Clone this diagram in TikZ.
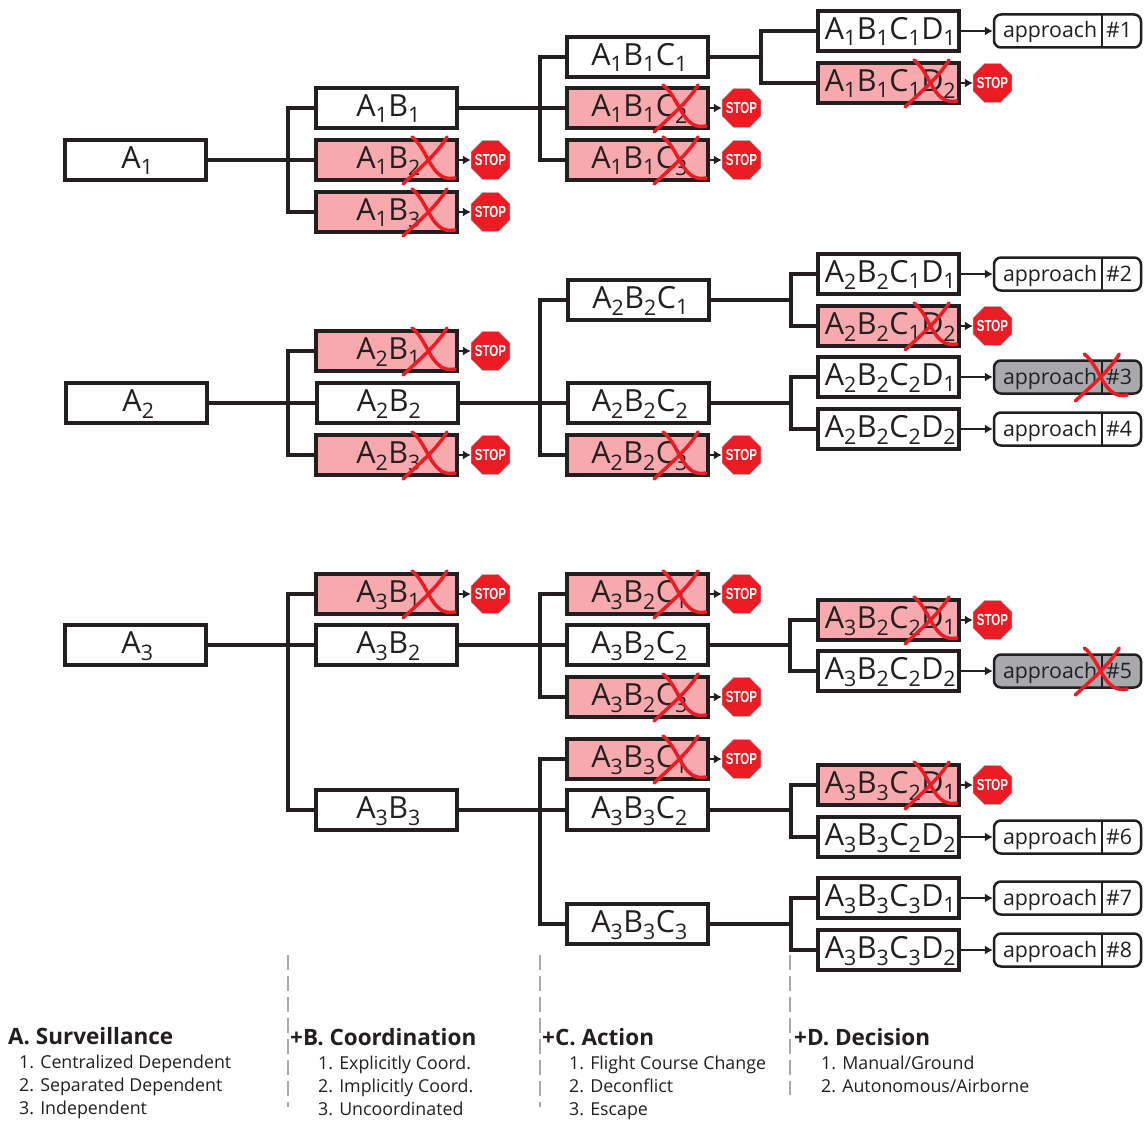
\documentclass[tikz,border=0pt]{standalone}
\usepackage{fontspec}
\setmainfont{Open Sans}
\newfontfamily\stopfont[FakeStretch=0.72]{Liberation Sans}
\usetikzlibrary{arrows.meta,positioning,calc,shapes.geometric}
\definecolor{ink}{HTML}{231F20}
\definecolor{deadpink}{HTML}{F7A9AD}
\definecolor{crossred}{HTML}{ED1C24}
\definecolor{deadgray}{HTML}{A7A9AC}
\newcommand{\sbs}[1]{\textsubscript{#1}}
\newcommand{\stoptext}{\makebox[0pt]{\raisebox{-0.36em}[0pt][0pt]{STOP}}}
\tikzset{
  optbox/.style={
    draw=ink,
    line width=4pt,
    fill=white,
    text=ink,
    minimum width=141pt,
    minimum height=40pt,
    text height=24pt,
    text depth=7.4pt,
    inner sep=0pt,
    align=center,
    execute at begin node=\hspace*{4pt},
    font=\fontsize{30.5}{31}\selectfont
  },
  deadbox/.style={optbox,fill=deadpink},
  apprbox/.style={
    draw=ink,
    line width=2.5pt,
    rounded corners=7pt,
    fill=white,
    text=ink,
    minimum height=33pt,
    minimum width=147pt,
    text width=129pt,
    text height=17pt,
    text depth=3pt,
    inner xsep=9pt,
    inner ysep=0pt,
    align=left,
    font=\fontsize{21.3}{22}\selectfont,
    path picture={\draw[ink,line width=2pt]
      ([xshift=108pt]path picture bounding box.north west) --
      ([xshift=108pt]path picture bounding box.south west);}
  },
  deadappr/.style={apprbox,fill=deadgray},
  stopsign/.style={
    regular polygon,
    regular polygon sides=8,
    draw=deadgray,
    line width=0.6pt,
    fill=crossred,
    text=white,
    minimum size=42pt,
    inner sep=0pt,
    font=\stopfont\bfseries\fontsize{16}{16}\selectfont
  },
  linkline/.style={draw=ink,line width=3.3pt},
  stoparrow/.style={-{Latex[length=8pt,width=9pt]},draw=ink,line width=1.2pt},
  crossline/.style={draw=crossred,line width=3.5pt,line cap=round},
  cutline/.style={draw=deadgray,line width=2pt,dash pattern=on 15pt off 6pt},
  headtext/.style={anchor=west,inner sep=0pt,text=ink,font=\bfseries\fontsize{22.5}{24}\selectfont},
  itemtext/.style={anchor=north west,inner sep=0pt,text=ink,align=left,font=\fontsize{17.8}{23}\selectfont},
  redx/.pic={
    \draw[crossline] (-56,24) .. controls (-40,9) and (-22,-6) .. (-12,-23);
    \draw[crossline] (-47,-23) .. controls (-30,-10) and (-28,23) .. (-4,18);
  }
}
\begin{document}
\begin{tikzpicture}[x=1pt,y=-1pt]
\useasboundingbox (0,0) rectangle (1146,1121);
\node[optbox] (A1) at (135.5,160) {A\sbs1};
\node[optbox] (A1B1) at (386.5,108) {A\sbs1B\sbs1};
\node[deadbox] (A1B2) at (386.5,160) {A\sbs1B\sbs2};
\node[deadbox] (A1B3) at (386.5,212) {A\sbs1B\sbs3};
\node[optbox] (A1B1C1) at (637.5,57) {A\sbs1B\sbs1C\sbs1};
\node[deadbox] (A1B1C2) at (637.5,108) {A\sbs1B\sbs1C\sbs2};
\node[deadbox] (A1B1C3) at (637.5,160) {A\sbs1B\sbs1C\sbs3};
\node[optbox] (A1B1C1D1) at (888.5,31) {A\sbs1B\sbs1C\sbs1D\sbs1};
\node[deadbox] (A1B1C1D2) at (888.5,83) {A\sbs1B\sbs1C\sbs1D\sbs2};
\node[apprbox] (appr1) at (1067.5,31) {approach\hfill\#1};

\node[optbox] (A2) at (136.5,403) {A\sbs2};
\node[deadbox] (A2B1) at (386.5,351) {A\sbs2B\sbs1};
\node[optbox] (A2B2) at (387,403) {A\sbs2B\sbs2};
\node[deadbox] (A2B3) at (386.5,455) {A\sbs2B\sbs3};
\node[optbox] (A2B2C1) at (638.5,300) {A\sbs2B\sbs2C\sbs1};
\node[optbox] (A2B2C2) at (638,403) {A\sbs2B\sbs2C\sbs2};
\node[deadbox] (A2B2C3) at (637.5,455) {A\sbs2B\sbs2C\sbs3};
\node[optbox] (A2B2C1D1) at (888.5,274) {A\sbs2B\sbs2C\sbs1D\sbs1};
\node[deadbox] (A2B2C1D2) at (888.5,326) {A\sbs2B\sbs2C\sbs1D\sbs2};
\node[optbox] (A2B2C2D1) at (888.5,377) {A\sbs2B\sbs2C\sbs2D\sbs1};
\node[optbox] (A2B2C2D2) at (888.5,429) {A\sbs2B\sbs2C\sbs2D\sbs2};
\node[apprbox] (appr2) at (1067.5,274) {approach\hfill\#2};
\node[deadappr] (appr3) at (1067.5,377) {approach\hfill\#3};
\node[apprbox] (appr4) at (1067.5,429) {approach\hfill\#4};

\node[optbox] (A3) at (135.5,645) {A\sbs3};
\node[deadbox] (A3B1) at (386.5,594) {A\sbs3B\sbs1};
\node[optbox] (A3B2) at (386.5,645) {A\sbs3B\sbs2};
\node[optbox] (A3B3) at (386.5,810) {A\sbs3B\sbs3};
\node[deadbox] (A3B2C1) at (637.5,594) {A\sbs3B\sbs2C\sbs1};
\node[optbox] (A3B2C2) at (637.5,645) {A\sbs3B\sbs2C\sbs2};
\node[deadbox] (A3B2C3) at (637.5,697) {A\sbs3B\sbs2C\sbs3};
\node[deadbox] (A3B3C1) at (637.5,759) {A\sbs3B\sbs3C\sbs1};
\node[optbox] (A3B3C2) at (637.5,810) {A\sbs3B\sbs3C\sbs2};
\node[optbox] (A3B3C3) at (637.5,924) {A\sbs3B\sbs3C\sbs3};
\node[deadbox] (A3B2C2D1) at (888.5,620) {A\sbs3B\sbs2C\sbs2D\sbs1};
\node[optbox] (A3B2C2D2) at (888.5,671) {A\sbs3B\sbs2C\sbs2D\sbs2};
\node[deadbox] (A3B3C2D1) at (888.5,785) {A\sbs3B\sbs3C\sbs2D\sbs1};
\node[optbox] (A3B3C2D2) at (888.5,837) {A\sbs3B\sbs3C\sbs2D\sbs2};
\node[optbox] (A3B3C3D1) at (888.5,898) {A\sbs3B\sbs3C\sbs3D\sbs1};
\node[optbox] (A3B3C3D2) at (888.5,950) {A\sbs3B\sbs3C\sbs3D\sbs2};
\node[deadappr] (appr5) at (1067.5,671) {approach\hfill\#5};
\node[apprbox] (appr6) at (1067.5,837) {approach\hfill\#6};
\node[apprbox] (appr7) at (1067.5,898) {approach\hfill\#7};
\node[apprbox] (appr8) at (1067.5,950) {approach\hfill\#8};

\foreach \src/\up/\mid/\down/\jx in {
  A1/A1B1/A1B2/A1B3/288,
  A1B1/A1B1C1/A1B1C2/A1B1C3/540,
  A2/A2B1/A2B2/A2B3/288,
  A2B2/A2B2C1/A2B2C2/A2B2C3/540,
  A3/A3B1/A3B2/A3B3/288,
  A3B2/A3B2C1/A3B2C2/A3B2C3/540,
  A3B3/A3B3C1/A3B3C2/A3B3C3/540}{
  \coordinate (J\src) at (\jx,0);
  \draw[linkline] (\src.east) -- (\mid.west);
  \draw[linkline] (\up.west) -| (J\src |- \mid.west) |- (\down.west);
}
\foreach \src/\up/\down/\jx in {
  A1B1C1/A1B1C1D1/A1B1C1D2/761,
  A2B2C1/A2B2C1D1/A2B2C1D2/791,
  A2B2C2/A2B2C2D1/A2B2C2D2/791,
  A3B2C2/A3B2C2D1/A3B2C2D2/790,
  A3B3C2/A3B3C2D1/A3B3C2D2/791,
  A3B3C3/A3B3C3D1/A3B3C3D2/791}{
  \coordinate (J\src) at (\jx,0);
  \draw[linkline] (\src.east) -- (J\src |- \src.east);
  \draw[linkline] (\up.west) -| (J\src |- \src.east) |- (\down.west);
}
\foreach \src/\dst in {
  A1B1C1D1/appr1,A2B2C1D1/appr2,A2B2C2D1/appr3,A2B2C2D2/appr4,
  A3B2C2D2/appr5,A3B3C2D2/appr6,A3B3C3D1/appr7,A3B3C3D2/appr8}{
  \draw[stoparrow] (\src) -- (\dst);
}
\foreach \n in {
  A1B2,A1B3,A1B1C2,A1B1C3,A1B1C1D2,A2B1,A2B3,A2B2C3,A2B2C1D2,
  A3B1,A3B2C1,A3B2C3,A3B3C1,A3B2C2D1,A3B3C2D1}{
  \node[stopsign] (stop\n) at ($(\n.east)+(31.5,0)$) {\stoptext};
  \draw[stoparrow] (\n) -- (stop\n);
  \pic at (\n.east) {redx};
}
\foreach \n in {appr3,appr5}{
  \pic at ($(\n.east)+(-11,0)$) {redx};
}

\coordinate (cutB) at (288,955);
\coordinate (cutC) at (540,955);
\coordinate (cutD) at (790,955);
\draw[cutline] (cutB) -- ++(0,152);
\draw[cutline] (cutC) -- ++(0,152);
\draw[cutline] (cutD) -- ++(0,140);

\node[headtext] (headA) at (8,1036) {A. Surveillance};
\node[itemtext] (itemsA) at (19,1054.5) {1. Centralized Dependent\\2. Separated Dependent\\3. Independent};
\node[headtext] (headB) at (290,1037) {+B. Coordination};
\node[itemtext] (itemsB) at (318,1055.5) {1. Explicitly Coord.\\2. Implicitly Coord.\\3. Uncoordinated};
\node[headtext] (headC) at (542,1037) {+C. Action};
\node[itemtext] (itemsC) at (569,1055.5) {1. Flight Course Change\\2. Deconflict\\3. Escape};
\node[headtext] (headD) at (794,1037) {+D. Decision};
\node[itemtext] (itemsD) at (821,1055.5) {1. Manual/Ground\\2. Autonomous/Airborne};
\end{tikzpicture}
\end{document}
